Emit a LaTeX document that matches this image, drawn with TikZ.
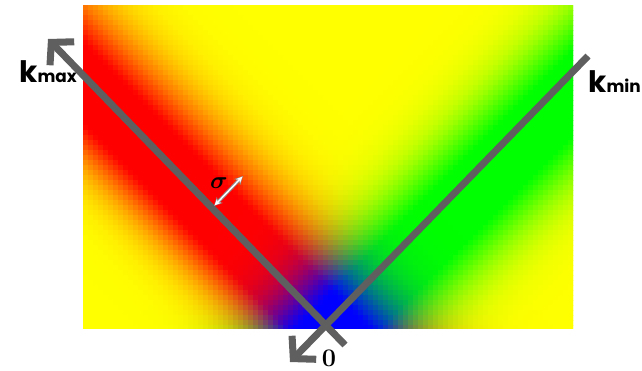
\documentclass[tikz,border=0pt]{standalone}
\usepackage{fontspec}
\newfontfamily\labelfont{Poppins}
\usetikzlibrary{arrows.meta}
\definecolor{linegray}{RGB}{95,95,95}
\tikzset{
  kline/.style={draw=linegray,line width=5pt},
  barb/.style={-{Straight Barb[length=11pt,width=24pt]}},
  klabel/.style={font=\labelfont\bfseries\fontsize{21}{21}\selectfont,inner sep=0pt,anchor=base west}
}

\begin{document}
\begin{tikzpicture}[x=0.025cm,y=-0.025cm]
                \useasboundingbox (0,0) rectangle (642,370);
                \begin{scope}
                  \clip (83,5) rectangle (573,328);
                  \foreach \x in {83,88,...,573}{
                    \foreach \y in {5,10,...,325}{
                      \pgfmathsetmacro{\du}{(\x-\y)/1.4142+3}
                      \pgfmathsetmacro{\zr}{min(abs(\du)/(\du<0 ? 50 : 62),3)}
                      \pgfmathsetmacro{\zg}{min(abs((\x+\y+5-645)/1.4142-15)/58,3)}
                      \pgfmathsetmacro{\redw}{min(1.3*exp(-\zr*\zr),1)}
                      \pgfmathsetmacro{\greenw}{min(1.3*exp(-\zg*\zg),1)}
                      \pgfmathsetmacro{\cr}{1-\greenw}
                      \pgfmathsetmacro{\cg}{1-\redw}
                      \pgfmathsetmacro{\cb}{\redw*\greenw}
                      \definecolor{cell}{rgb}{\cr,\cg,\cb}
                      \fill[cell] (\x,\y) rectangle ++(5.6,5.6);
                    }
                  }
                \end{scope}
                \coordinate (maxtip) at (48,39);
                \coordinate (maxend) at (345,345);
                \coordinate (mintop) at (588,56);
                \coordinate (zerotip) at (290,362);
                \draw[kline,barb] (maxend)--(maxtip);
                \draw[kline,barb] (mintop)--(zerotip);
                \node[klabel] (kmax) at (19,82) {k{\fontsize{12}{12}\selectfont max}};
                \node[klabel] (kmin) at (588,92) {k{\fontsize{12}{12}\selectfont min}};
                \node[font=\fontsize{18}{18}\selectfont\bfseries,inner sep=0pt] (zero) at (329,358) {0};
                \node[font=\fontsize{17}{17}\selectfont\boldmath] (sigma) at (219,183) {$\sigma$};
                \coordinate (sa) at (214,206);
                \coordinate (sb) at (243,176);
                \draw[linegray!70,line width=2.4pt,{Stealth[length=6pt,width=6pt]}-{Stealth[length=6pt,width=6pt]}] (sa)--(sb);
                \draw[white,line width=1pt,{Stealth[length=4.5pt,width=4pt]}-{Stealth[length=4.5pt,width=4pt]},shorten <=0.6pt,shorten >=0.6pt] (sa)--(sb);
\end{tikzpicture}
\end{document}
